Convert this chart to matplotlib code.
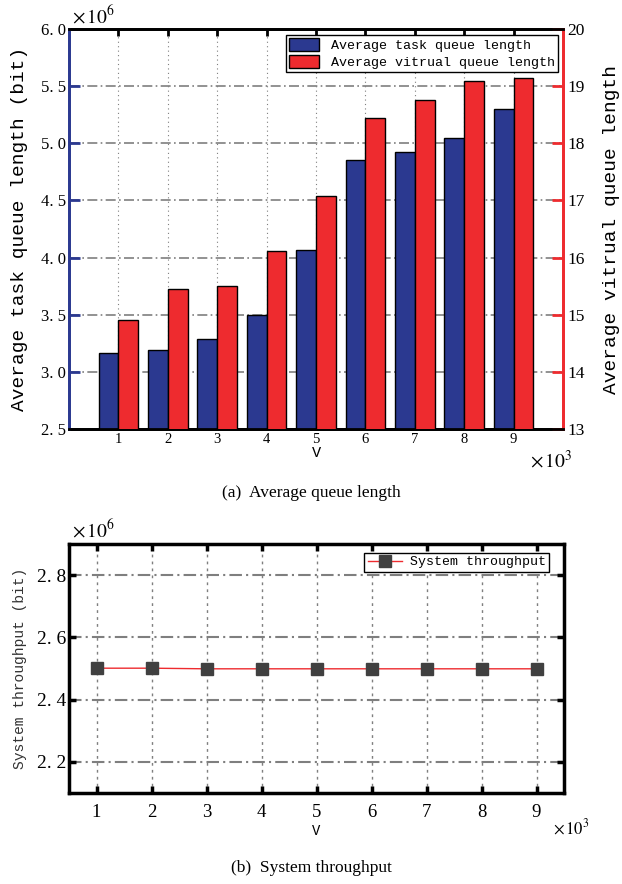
import matplotlib.pyplot as plt
import numpy as np
from matplotlib.patches import Patch

plt.rcParams['mathtext.fontset'] = 'stix'

# V values (x 10^3)
v = [1, 2, 3, 4, 5, 6, 7, 8, 9]
# average task queue length (x 10^6 bit)
task_q = [3.165, 3.19, 3.285, 3.50, 4.07, 4.85, 4.92, 5.05, 5.30]
# average virtual queue length
virt_q = [14.91, 15.45, 15.51, 16.12, 17.07, 18.45, 18.76, 19.09, 19.14]
# system throughput (x 10^6 bit)
thru = [2.501, 2.501, 2.499, 2.499, 2.499, 2.499, 2.499, 2.499, 2.499]

left_ticks = [2.5, 3.0, 3.5, 4.0, 4.5, 5.0, 5.5, 6.0]
right_ticks = [13, 14, 15, 16, 17, 18, 19, 20]
thru_ticks = [2.2, 2.4, 2.6, 2.8]

blue = '#2B3990'
red = '#EE2B2F'
grey = '#7F7F7F'
mono = 'Liberation Mono'
serif = 'Liberation Serif'


def spaced(t):
    # "2.5" -> "2. 5", like the wide mono digits
    return ('%.1f' % t).replace('.', '. ')


fig = plt.figure(figsize=(6.22, 8.84), dpi=100)

# (a) bars
ax = fig.add_axes([69/622, 1-429/884, 494/622, 400/884])
ax2 = ax.twinx()
x = np.array(v)
w = 0.4
ax.bar(x - w/2, task_q, w, color=blue, edgecolor='black', lw=1, zorder=3)
ax2.bar(x + w/2, virt_q, w, color=red, edgecolor='black', lw=1, zorder=3)
ax.set_xlim(0, 10)
ax.set_ylim(2.5, 6.0)
ax2.set_ylim(13, 20)
ax.set_xticks(v)
ax.set_yticks(left_ticks)
ax2.set_yticks(right_ticks)
ax.set_yticklabels([spaced(t) for t in left_ticks], family=serif, fontsize=12)
ax.set_xticklabels([str(t) for t in v], family=serif, fontsize=10.5)
ax2.set_yticklabels([str(t) for t in right_ticks], family=serif, fontsize=12.5)
ax.yaxis.grid(True, ls=(0, (6, 2, 1, 2)), color=grey, lw=1.2, zorder=0)
ax.xaxis.grid(True, ls=(0, (1, 3)), color=grey, lw=0.8, zorder=0)
ax.set_axisbelow(True)
ax.tick_params(axis='x', direction='in', top=True, length=5, width=2,
               color='black', pad=3)
ax.tick_params(axis='y', direction='in', length=8, width=2, color=blue, pad=2)
ax2.tick_params(axis='y', direction='in', length=8, width=2, color=red, pad=3)
for a in (ax, ax2):
    for s in a.spines.values():
        s.set_linewidth(2)
    a.spines['left'].set_color(blue)
    a.spines['right'].set_color(red)
ax.set_ylabel('Average task queue length (bit)', family=mono, fontsize=14)
ax.yaxis.set_label_coords(-0.083, 0.5)
ax2.set_ylabel('Average vitrual queue length', family=mono, fontsize=14)
ax2.yaxis.set_label_coords(1.081, 0.5)
ax.set_xlabel('V', family=mono, fontsize=11, labelpad=0)
ax2.legend(handles=[Patch(fc=blue, ec='black', lw=1),
                    Patch(fc=red, ec='black', lw=1)],
           labels=['Average task queue length', 'Average vitrual queue length'],
           loc='upper right', bbox_to_anchor=(0.99, 0.985),
           prop={'family': mono, 'size': 9.6},
           fancybox=False, edgecolor='black', framealpha=1,
           borderaxespad=0, borderpad=0.25, labelspacing=0.2,
           handlelength=2.2, handleheight=1.1, handletextpad=0.9)
fig.text(72/622, 1-16/884, r'$\times\,10^{6}$', fontsize=14, va='center')
fig.text(530/622, 1-461/884, r'$\times\,10^{3}$', fontsize=14, va='center')
fig.text(0.5, 1-493/884, '(a)  Average queue length', family=serif,
         fontsize=12.5, ha='center', va='center')

# (b) throughput
bx = fig.add_axes([69/622, 1-793/884, 495/622, 249/884])
bx.plot(v, thru, color=red, lw=1, marker='s', ms=8, mfc='#404040',
        mec='#404040', label='System throughput', zorder=3)
bx.set_xlim(0.5, 9.5)
bx.set_ylim(2.1, 2.9)
bx.set_xticks(v)
bx.set_yticks(thru_ticks)
bx.set_yticklabels([spaced(t) for t in thru_ticks], family=serif, fontsize=14)
bx.set_xticklabels([str(t) for t in v], family=serif, fontsize=13.5)
bx.yaxis.grid(True, ls=(0, (6, 2, 1, 2)), color=grey, lw=1.5, zorder=0)
bx.xaxis.grid(True, ls=(0, (2, 3)), color=grey, lw=1, zorder=0)
bx.tick_params(direction='in', top=True, right=True, length=5, width=2.5,
               pad=8)
bx.tick_params(axis='y', pad=2)
for s in bx.spines.values():
    s.set_linewidth(2.5)
bx.set_ylabel('System throughput (bit)', family=mono, fontsize=10.5,
              color='#333333')
bx.yaxis.set_label_coords(-0.085, 0.5)
bx.set_xlabel('V', family=mono, fontsize=10, labelpad=2)
bx.legend(loc='upper right', bbox_to_anchor=(0.97, 0.965),
          prop={'family': mono, 'size': 9.5},
          fancybox=False, edgecolor='black', framealpha=1,
          borderaxespad=0, borderpad=0.25, handlelength=2.6,
          handletextpad=0.6)
fig.text(72/622, 1-530/884, r'$\times\,10^{6}$', fontsize=14, va='center')
fig.text(553/622, 1-828/884, r'$\times\,10^{3}$', fontsize=12, va='center')
fig.text(0.5, 1-868/884, '(b)  System throughput', family=serif,
         fontsize=12.5, ha='center', va='center')

fig.savefig('out.png', dpi=100)
